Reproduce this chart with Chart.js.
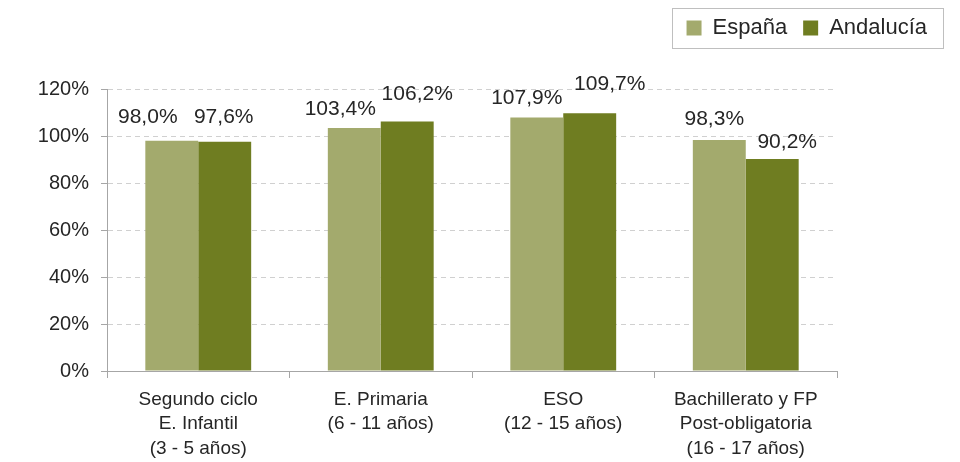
<!DOCTYPE html>
<html><head><meta charset="utf-8">
<script src="https://cdn.jsdelivr.net/npm/chart.js@4/dist/chart.umd.min.js"></script>
<style>html,body{margin:0;padding:0;background:#fff;}</style>
</head><body>
<canvas id="c" width="960" height="462"></canvas>
<script>
// ---- data ----
const categories = [
  ["Segundo ciclo", "E. Infantil", "(3 - 5 años)"],
  ["E. Primaria", "(6 - 11 años)"],
  ["ESO", "(12 - 15 años)"],
  ["Bachillerato y FP", "Post-obligatoria", "(16 - 17 años)"]
];
const seriesNames = ["España", "Andalucía"];
const espana = [98.0, 103.4, 107.9, 98.3];
const andalucia = [97.6, 106.2, 109.7, 90.2];
const yTickValues = [0, 20, 40, 60, 80, 100, 120];

// ---- presentation ----
const colors = ["#A3AA6D", "#6F7D21"];
const labelNudgeX = [[-24, -14, -10, -5], [-1, 10, 20, 15]];
const labelNudgeY = [[-2, 2, 2, 0], [-3, -6, -8, 4]];
const FONT = "'Liberation Sans', Arial, sans-serif";
const fmt = v => v.toFixed(1).replace('.', ',') + '%';

const legendFrame = {
  id: 'legendFrame',
  beforeLayout(chart) {
    const lg = chart.legend;
    if (lg && !lg._patched) {
      const f = lg.fit;
      lg.fit = function () { f.call(this); this.height = 88; };
      lg._patched = true;
    }
  },
  afterDraw(chart) {
    const hb = chart.legend && chart.legend.legendHitBoxes;
    if (!hb || !hb.length) return;
    let l = Infinity, r = -Infinity, t = Infinity, b = -Infinity;
    hb.forEach(h => { l = Math.min(l, h.left); r = Math.max(r, h.left + h.width); t = Math.min(t, h.top); b = Math.max(b, h.top + h.height); });
    const ctx = chart.ctx;
    ctx.save();
    ctx.strokeStyle = '#BFBFBF';
    ctx.lineWidth = 1;
    ctx.strokeRect(Math.round(l - 15) + 0.5, Math.round(t - 9) + 0.5, Math.round(r - l + 31), Math.round(b - t + 18));
    ctx.restore();
  }
};

const valueLabels = {
  id: 'valueLabels',
  afterDatasetsDraw(chart) {
    const ctx = chart.ctx;
    ctx.save();
    ctx.font = "21px " + FONT;
    ctx.fillStyle = '#262626';
    ctx.textAlign = 'center';
    ctx.textBaseline = 'middle';
    chart.data.datasets.forEach((ds, di) => {
      const meta = chart.getDatasetMeta(di);
      meta.data.forEach((el, i) => {
        ctx.fillText(fmt(ds.data[i]), el.x + labelNudgeX[di][i], el.y - 21 + labelNudgeY[di][i]);
      });
    });
    ctx.restore();
  }
};

new Chart(document.getElementById('c'), {
  type: 'bar',
  data: {
    labels: categories,
    datasets: [
      { label: seriesNames[0], data: espana, backgroundColor: colors[0], borderWidth: 0 },
      { label: seriesNames[1], data: andalucia, backgroundColor: colors[1], borderWidth: 0 }
    ]
  },
  options: {
    responsive: false,
    animation: false,
    devicePixelRatio: 1,
    categoryPercentage: 0.58,
    barPercentage: 1,
    layout: { padding: { top: 1, right: 17, left: 0, bottom: 0 } },
    plugins: {
      legend: {
        position: 'top',
        align: 'end',
        labels: {
          font: { family: FONT, size: 22 },
          color: '#262626',
          boxWidth: 15,
          boxHeight: 15,
          padding: 16
        }
      },
      tooltip: { enabled: false }
    },
    scales: {
      x: {
        grid: { offset: true, drawOnChartArea: false, drawTicks: true, tickLength: 7, color: '#A6A6A6', tickColor: '#A6A6A6' },
        border: { color: '#A6A6A6', width: 1 },
        ticks: { font: { family: FONT, size: 19, lineHeight: 1.27 }, color: '#262626', padding: 10, maxRotation: 0, autoSkip: false },
        afterFit(s) { s.height = 91; }
      },
      y: {
        min: 0, max: 120,
        afterBuildTicks(s) { s.ticks = yTickValues.map(v => ({ value: v })); },
        grid: { color: '#D0D0D0', tickColor: '#A6A6A6', tickLength: 6, lineWidth: 1 },
        border: { color: '#A6A6A6', width: 1, dash: [5, 4] },
        ticks: { font: { family: FONT, size: 20 }, color: '#262626', padding: 12, callback: v => v + '%' },
        afterFit(s) { s.width = 107; }
      },
      yR: {
        type: 'linear',
        position: 'right',
        grid: { display: false, drawTicks: false },
        border: { display: false },
        ticks: { display: false },
        afterFit(s) { s.width = 106; }
      }
    }
  },
  plugins: [legendFrame, valueLabels]
});
</script>
</body></html>
